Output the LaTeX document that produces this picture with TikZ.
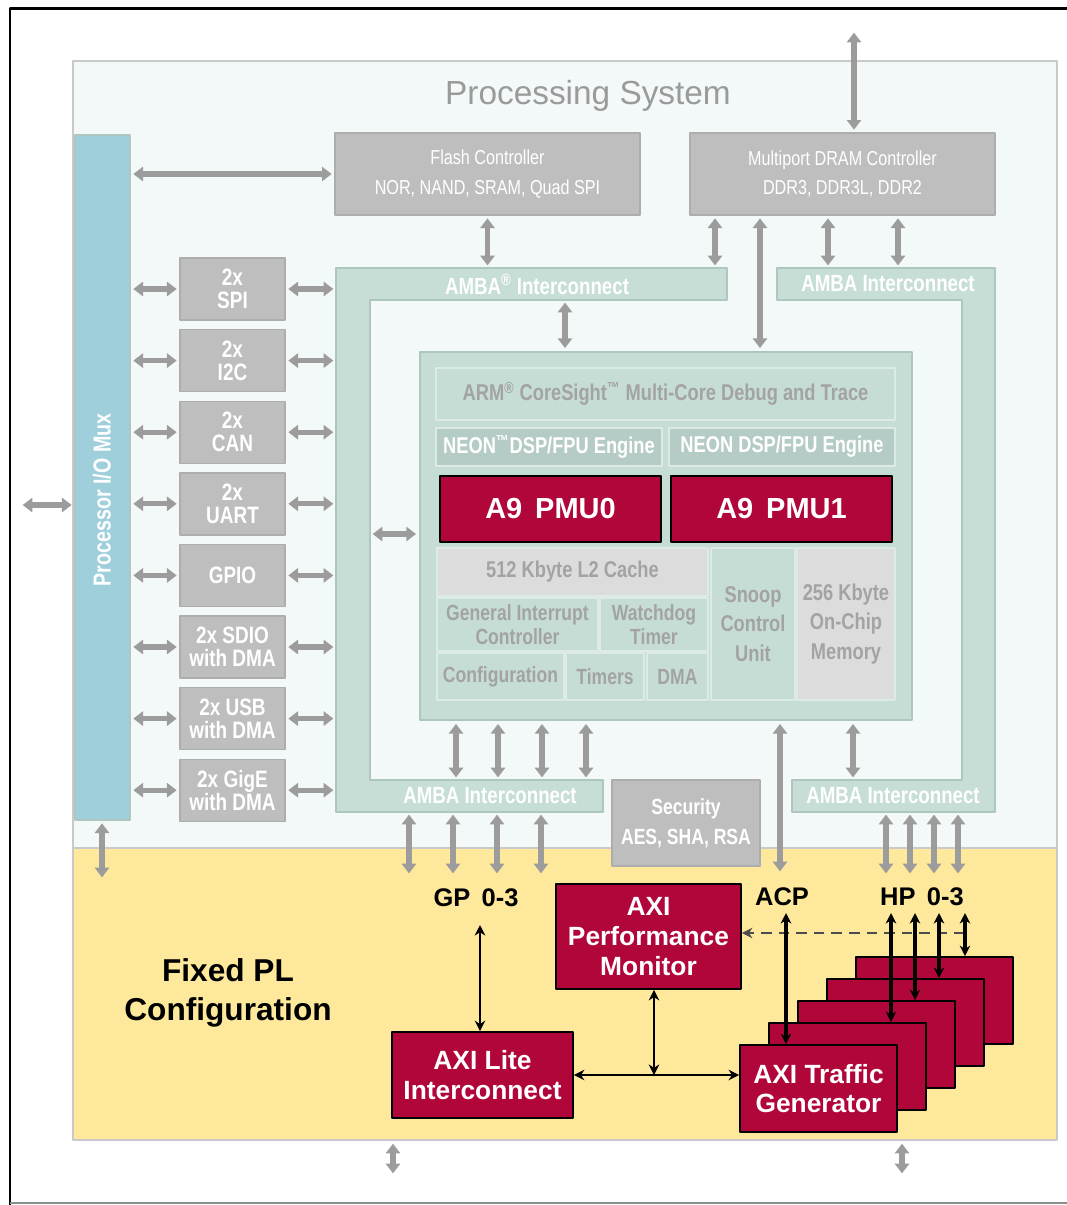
\documentclass[tikz,border=0pt]{standalone}
\usepackage{fontspec}
\setmainfont{Liberation Sans}
\newfontfamily\cond[FakeStretch=0.8]{Liberation Sans}
\usetikzlibrary{arrows.meta,fit,positioning}

\definecolor{cPS}{HTML}{F3F8F8}
\definecolor{cPSline}{HTML}{C9C9C9}
\definecolor{cPL}{HTML}{FDE89B}
\definecolor{cMux}{HTML}{A0CFDC}
\definecolor{cGray}{HTML}{BEBEBE}
\definecolor{cGrayLine}{HTML}{ADADAD}
\definecolor{cAmba}{HTML}{C7DED6}
\definecolor{cAmbaLine}{HTML}{AFC6BE}
\definecolor{cCpu}{HTML}{C6DDD5}
\definecolor{cCore}{HTML}{DDEBE6}
\definecolor{cNeon}{HTML}{B5CCC6}
\definecolor{cL2}{HTML}{DCDCDC}
\definecolor{cCrim}{HTML}{B1063A}
\definecolor{cArrow}{HTML}{9C9C9C}
\definecolor{cTxt}{HTML}{A3A3A3}
\definecolor{cTitle}{HTML}{9A9A9A}

\begin{document}
\begin{tikzpicture}[x=0.02cm, y=-0.02cm, line join=round]
\tikzset{
  wh/.style 2 args={minimum width={#1*0.02cm}, minimum height={#2*0.02cm}},
  box/.style={draw=cGrayLine, fill=cGray, line width=0.8pt, inner sep=0pt, text=white, align=center, font=\cond\fontsize{11.5}{17}\selectfont},
  per/.style={box, wh={105}{62}, font=\cond\bfseries\fontsize{13.5}{13}\selectfont},
  core/.style={draw=cCore, fill=cCpu, line width=1pt, inner sep=0pt, align=center, text=cTxt, font=\cond\bfseries\fontsize{12.5}{17}\selectfont},
  amba/.style={text=white, inner sep=0pt, font=\cond\bfseries\fontsize{13.3}{15}\selectfont},
  crim/.style={draw=black, fill=cCrim, line width=1pt, inner sep=0pt, text=white, align=center, font=\bfseries\fontsize{15}{17}\selectfont},
  port/.style={text=black, inner sep=0pt, font=\bfseries\fontsize{14.5}{17}\selectfont},
  garr/.style={draw=cArrow, line width=3pt, shorten >=1.5pt, shorten <=1.5pt, {Triangle[width=8pt,length=5.5pt]}-{Triangle[width=8pt,length=5.5pt]}},
  barr/.style={draw=black, line width=1.6pt, {Stealth[width=6pt,length=6pt]}-{Stealth[width=6pt,length=6pt]}},
}
\useasboundingbox (0,0) rectangle (1067,1205);
\fill[white] (0,0) rectangle (1067,1205);
\draw[line width=1.7pt] (10,1205) -- (10,8) -- (1067,8);
\draw[black!45, line width=1pt] (10,1203) -- (1067,1203);

% processing system and fixed PL
\node[draw=cPSline, fill=cPS, line width=1.2pt, inner sep=0pt, fit={(73,61) (1057,848)}] (ps) {};
\node[draw=cPSline, fill=cPL, line width=1.2pt, inner sep=0pt, fit={(73,848) (1057,1140)}] (pl) {};
\node[text=cTitle, font=\fontsize{19}{22}\selectfont] (pstitle) at (588,96) {Processing System};
\node[font=\bfseries\fontsize{18}{22}\selectfont, align=center] (fixed) at (228,993) {Fixed PL\\Configuration};

\node[draw=cAmbaLine, fill=cMux, line width=0.8pt, inner sep=0pt, fit={(75,135) (130,820)}] (mux) {};
\node[rotate=90, text=white, font=\cond\bfseries\fontsize{14}{16}\selectfont] (muxlbl) at (102,500) {Processor I/O Mux};

\node[box, wh={305}{82}] (flash) at (487.5,174) {Flash Controller\\NOR, NAND, SRAM, Quad SPI};
\node[box, wh={305}{82}] (dram) at (842.5,174) {Multiport DRAM Controller\\DDR3, DDR3L, DDR2};

% AMBA interconnect frames
\filldraw[fill=cAmba, draw=cAmbaLine, line width=1.2pt] (336,268) -- (727,268) -- (727,300) -- (370,300) -- (370,780) -- (603,780) -- (603,812) -- (336,812) -- cycle;
\filldraw[fill=cAmba, draw=cAmbaLine, line width=1.2pt] (777,268) -- (995,268) -- (995,812) -- (792,812) -- (792,780) -- (962,780) -- (962,300) -- (777,300) -- cycle;
\node[amba] (ambaT) at (537,284) {AMBA\textsuperscript{\textregistered} Interconnect};
\node[amba] (ambaB) at (490,796) {AMBA Interconnect};
\node[amba] (ambaRT) at (888,284) {AMBA Interconnect};
\node[amba] (ambaRB) at (893,796) {AMBA Interconnect};
\coordinate (aTt) at (0,268);
\coordinate (aTb) at (0,300);
\coordinate (aBt) at (0,780);
\coordinate (aBb) at (0,812);
\coordinate (aL) at (336,0);
\coordinate (aLi) at (370,534);

% peripherals
\foreach \t [count=\i from 0] in {{2x\\SPI},{2x\\I2C},{2x\\CAN},{2x\\UART},{GPIO},{2x SDIO\\with DMA},{2x USB\\with DMA},{2x GigE\\with DMA}} {
  \node[per] (p\i) at (232.5,{289+71.6*\i}) {\t};
  \draw[garr] (mux.east |- p\i) -- (p\i.west);
  \draw[garr] (p\i.east) -- (p\i.east -| aL);
}

% cpu block
\node[draw=cAmbaLine, fill=cCpu, line width=1.5pt, inner sep=0pt, fit={(420,352) (912,720)}] (cpu) {};
\node[core, wh={459}{52}, font=\cond\bfseries\fontsize{13}{17}\selectfont] (trace) at (665.5,394) {ARM\textsuperscript{\textregistered} CoreSight\textsuperscript{\texttrademark} Multi-Core Debug and Trace};
\node[core, wh={226}{38}, fill=cNeon, text=white, font=\cond\bfseries\fontsize{13}{17}\selectfont] (neon0) at (549,447) {NEON\textsuperscript{\texttrademark}DSP/FPU Engine};
\node[core, wh={226}{38}, fill=cNeon, text=white, font=\cond\bfseries\fontsize{13}{17}\selectfont] (neon1) at (782,447) {NEON DSP/FPU Engine};
\node[crim, wh={221}{66}, font=\bfseries\fontsize{16.5}{18}\selectfont] (pmu0) at (550.5,509) {A9\, PMU0};
\node[crim, wh={221}{66}, font=\bfseries\fontsize{16.5}{18}\selectfont] (pmu1) at (781.5,509) {A9\, PMU1};
\node[core, wh={271}{48}, fill=cL2, font=\cond\bfseries\fontsize{13}{17}\selectfont] (l2) at (572.5,572) {512 Kbyte L2 Cache};
\node[core, wh={161}{53}, font=\cond\bfseries\fontsize{12.5}{14}\selectfont] (gic) at (517.5,624.5) {General Interrupt\\Controller};
\node[core, wh={108}{53}, font=\cond\bfseries\fontsize{12.5}{14}\selectfont] (wdt) at (654,624.5) {Watchdog\\Timer};
\node[core, wh={127}{47}] (cfg) at (500.5,676.5) {Configuration};
\node[core, wh={78}{47}] (tmr) at (605,676.5) {Timers};
\node[core, wh={61}{47}] (dma) at (677.5,676.5) {DMA};
\node[core, wh={84}{152}, font=\cond\bfseries\fontsize{13}{17}\selectfont] (scu) at (753,624) {Snoop\\Control\\Unit};
\node[core, wh={98}{152}, fill=cL2, font=\cond\bfseries\fontsize{13}{17}\selectfont] (ocm) at (846,624) {256 Kbyte\\On-Chip\\Memory};

\node[box, wh={148}{86}, font=\cond\bfseries\fontsize{12.5}{17}\selectfont] (sec) at (686,823) {Security\\AES, SHA, RSA};

% gray links
\coordinate (ddrio) at (854,30);
\coordinate (ext) at (20,505);
\draw[garr] (dram.north -| ddrio) -- (ddrio);
\draw[garr] (mux.west |- ext) -- (ext);
\draw[garr] (flash.west) -- (flash.west -| mux.east);
\draw[garr] (flash.south) -- (flash.south |- aTt);
\foreach \x in {715,828,898} {
  \coordinate (d) at (\x,0);
  \draw[garr] (dram.south -| d) -- (aTt -| d);
}
\coordinate (d) at (760,0);
\draw[garr] (dram.south -| d) -- (cpu.north -| d);
\coordinate (d) at (565,0);
\draw[garr] (aTb -| d) -- (cpu.north -| d);
\draw[garr] (aLi) -- (aLi -| cpu.west);
\foreach \x in {456,498,542,586,853} {
  \coordinate (d) at (\x,0);
  \draw[garr] (cpu.south -| d) -- (aBt -| d);
}
\coordinate (acpg) at (780,874);
\draw[garr] (cpu.south -| acpg) -- (acpg);
\foreach \x in {409,453,497,541,886,910,934,958} {
  \coordinate (d) at (\x,876);
  \draw[garr] (aBb -| d) -- (d);
}
\coordinate (muxd) at (102,880);
\draw[garr] (mux.south -| muxd) -- (muxd);
\foreach \x in {393,902} {
  \coordinate (d) at (\x,1176);
  \draw[garr] (pl.south -| d) -- (d);
}

\node[port] (gp) at (476,898) {GP\, 0-3};
\node[port] (acp) at (782,897) {ACP};
\node[port] (hp) at (922,897) {HP\, 0-3};

% fixed PL blocks
\node[crim, wh={185}{105}] (pm) at (648.5,936.5) {AXI\\Performance\\Monitor};
\node[crim, wh={181}{86}] (lite) at (482.5,1075) {AXI Lite\\Interconnect};
\foreach \i in {4,3,2,1} {
  \node[crim, wh={157}{87}] (tg\i) at ({818.5+29*\i},{1088.5-22*\i}) {};
}
\node[crim, wh={157}{87}] (tg0) at (818.5,1088.5) {AXI Traffic\\Generator};

% black links
\coordinate (gpe) at (480,925);
\coordinate (bus) at (654,1075);
\draw[barr] (gpe) -- (gpe |- lite.north);
\draw[barr] (lite.east |- bus) -- (tg0.west |- bus);
\draw[barr] (pm.south -| bus) -- (bus);
\coordinate (dsh) at (965,933);
\draw[black!70, line width=1.5pt, dash pattern=on 6pt off 4pt, -{Stealth[width=6pt,length=6pt]}] (dsh) -- (dsh -| pm.east);
\coordinate (acpb) at (786,913);
\draw[barr, line width=2.2pt] (acpb) -- (acpb |- tg0.north);
\foreach \x [count=\k] in {891,915,939,965} {
  \coordinate (h) at (\x,913);
  \draw[barr, line width=2.2pt] (h) -- (h |- tg\k.north);
}
\end{tikzpicture}
\end{document}
